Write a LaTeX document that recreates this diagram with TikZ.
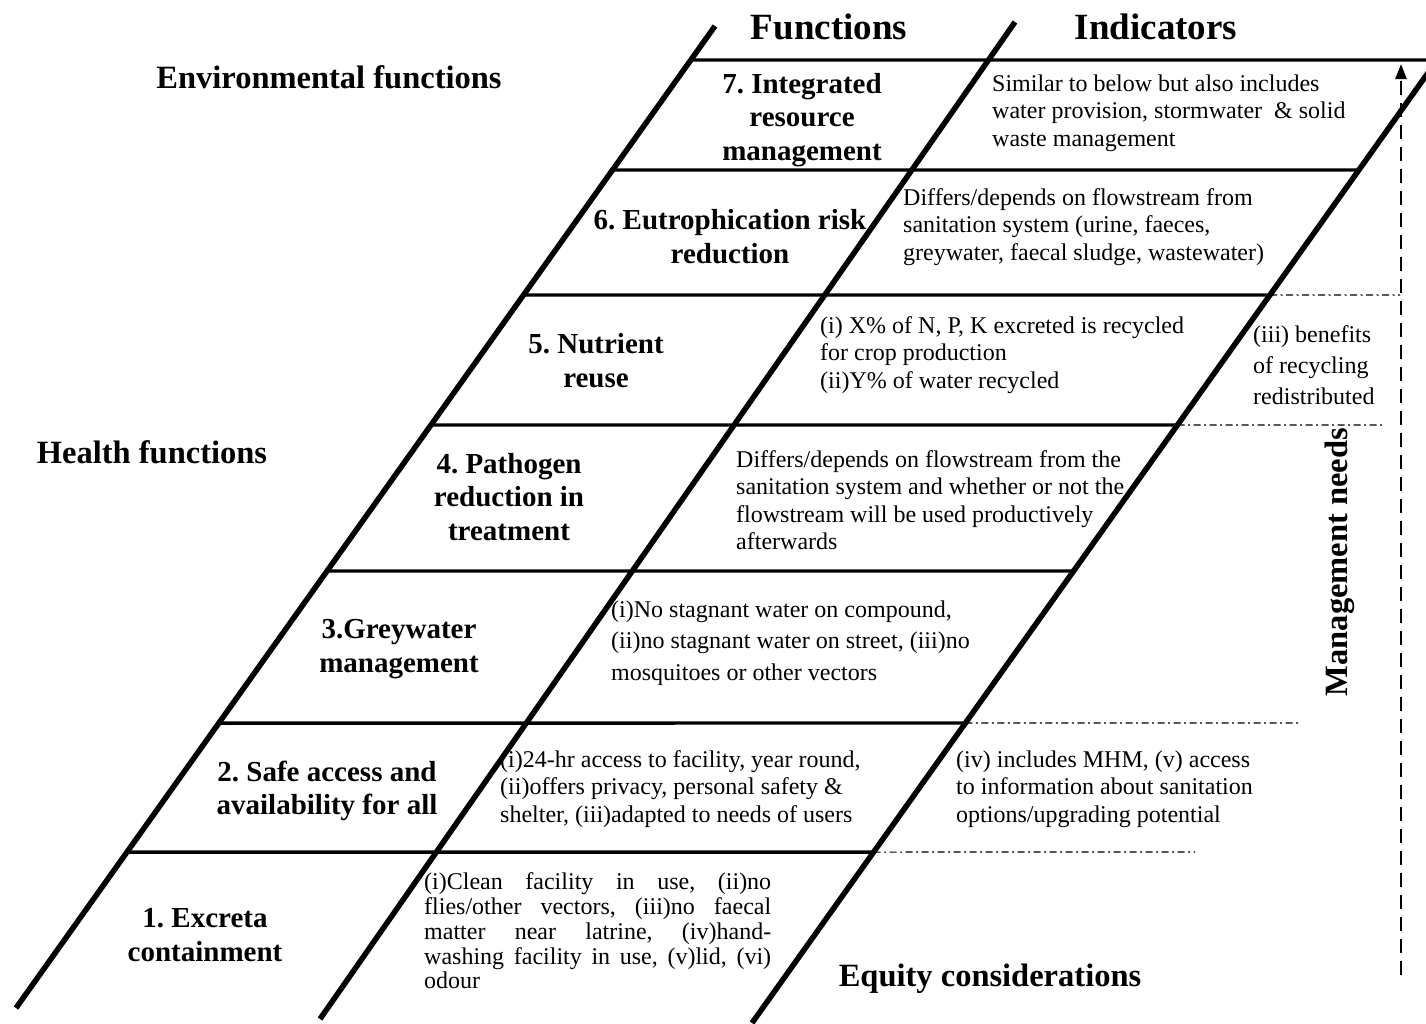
\documentclass[tikz,border=0pt]{standalone}
\usepackage{fontspec}
\setmainfont{Liberation Serif}
\usetikzlibrary{arrows.meta,calc}
\begin{document}
\frenchspacing
\begin{tikzpicture}[x=1pt,y=-1pt,
  rail/.style={line width=5.5pt},
  rowline/.style={line width=3.4pt},
  ext/.style={line width=1.1pt, dash pattern=on 7pt off 3.5pt on 2pt off 3.5pt},
  head/.style={font=\fontsize{37}{40}\selectfont\bfseries, inner sep=0pt},
  side/.style={font=\fontsize{32.5}{36}\selectfont\bfseries, inner sep=0pt},
  func/.style={font=\fontsize{29}{33.8}\selectfont\bfseries, align=center, inner sep=0pt},
  ind/.style={font=\fontsize{24}{27.5}\selectfont, align=left, anchor=west, inner sep=0pt},
]
\useasboundingbox (0,0) rectangle (1426,1023);
\fill[white] (0,0) rectangle (1426,1023);
\clip (0,0) rectangle (1426,1023);

% the three slanted rails
\coordinate (L1a) at (16,1008);  \coordinate (L1b) at (715,26);
\coordinate (L2a) at (320,1019); \coordinate (L2b) at (1015,22);
\coordinate (L3a) at (752,1023); \coordinate (L3b) at (1430,70);
\draw[rail] (L1a) -- (L1b);
\draw[rail] (L2a) -- (L2b);
\draw[rail] (L3a) -- (L3b);

% header rule
\coordinate (t0) at (0,60); \coordinate (t1) at (1,60);
\coordinate (tEnd) at (1426,60);
\draw[rowline] (intersection of L1a--L1b and t0--t1) -- (tEnd);

% row separators between the outer rails
\foreach \y in {170,295,425,571,723,852} {
  \coordinate (h0) at (0,\y); \coordinate (h1) at (1,\y);
  \draw[rowline] (intersection of L1a--L1b and h0--h1) -- (intersection of L3a--L3b and h0--h1);
}

% dash-dotted extensions beyond the right rail
\foreach \y/\xe in {295/1400, 425/1382, 723/1300, 852/1195} {
  \coordinate (h0) at (0,\y); \coordinate (h1) at (1,\y);
  \coordinate (he) at (\xe,\y);
  \draw[ext] (intersection of L3a--L3b and h0--h1) -- (he);
}

% management needs arrow
\coordinate (mA) at (1401,975); \coordinate (mB) at (1401,64);
\draw[line width=2.4pt, dash pattern=on 14pt off 8pt, -{Triangle[length=15pt,width=11pt]}] (mA) -- (mB);

% headings and side labels
\node[head] (hF) at (829,27) {Functions};
\node[head] (hI) at (1156,27) {Indicators};
\node[side] (sEnv) at (329,77) {Environmental functions};
\node[side] (sHea) at (152,452) {Health functions};
\node[side] (sEq) at (990,979) {Equity considerations};
\node[side, rotate=90] (sMan) at (1340,562) {Management needs};

% functions
\node[func] (f7) at (802,120) {7. Integrated\\resource\\management};
\node[func] (f6) at (730,237) {6. Eutrophication risk\\reduction};
\node[func] (f5) at (596,361) {5. Nutrient\\reuse};
\node[func] (f4) at (509,497) {4. Pathogen\\reduction in\\treatment};
\node[func] (f3) at (399,649) {3.Greywater\\management};
\node[func] (f2) at (327,791) {2. Safe access and\\availability for all};
\node[func] (f1) at (205,935) {1. Excreta\\containment};

% indicators
\node[ind] (i7) at (992,113) {Similar to below but also includes\\water provision, stormwater\ \ \& solid\\waste management};
\node[ind] (i6) at (903,227) {Differs/depends on flowstream from\\sanitation system (urine, faeces,\\greywater, faecal sludge, wastewater)};
\node[ind] (i5) at (820,355) {(i) X\% of N, P, K excreted is recycled\\for crop production\\(ii)Y\% of water recycled};
\node[ind, font=\fontsize{24}{31}\selectfont] (i5b) at (1253,365) {(iii) benefits\\of recycling\\redistributed};
\node[ind] (i4) at (736,500) {Differs/depends on flowstream from the\\sanitation system and whether or not the\\flowstream will be used productively\\afterwards};
\node[ind, font=\fontsize{24}{31.5}\selectfont] (i3) at (611,643) {(i)No stagnant water on compound,\\(ii)no stagnant water on street, (iii)no\\mosquitoes or other vectors};
\node[ind] (i2) at (500,789) {(i)24-hr access to facility, year round,\\(ii)offers privacy, personal safety \&\\shelter, (iii)adapted to needs of users};
\node[ind] (i2b) at (956,789) {(iv) includes MHM, (v) access\\to information about sanitation\\options/upgrading potential};
\node[ind, font=\fontsize{24}{24.75}\selectfont] (i1) at (424,931) {%
  \makebox[347pt][s]{(i)Clean facility in use, (ii)no}\\
  \makebox[347pt][s]{flies/other vectors, (iii)no faecal}\\
  \makebox[347pt][s]{matter near latrine, (iv)hand-}\\
  \makebox[347pt][s]{washing facility in use, (v)lid, (vi)}\\
  odour};
\end{tikzpicture}
\end{document}
